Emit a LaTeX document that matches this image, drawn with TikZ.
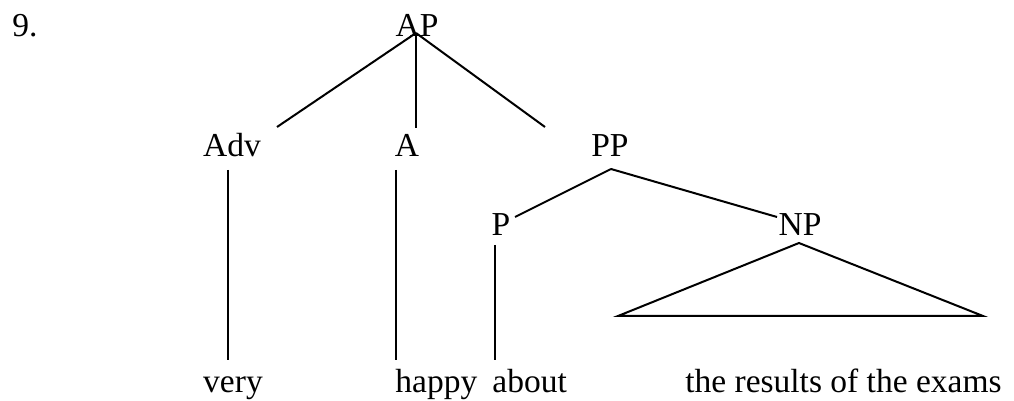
\documentclass[tikz,border=0pt]{standalone}
\usepackage{fontspec}
\setmainfont{Liberation Serif}
\usepackage{tikz}
\usetikzlibrary{calc,positioning}

\begin{document}
\begin{tikzpicture}[x=0.5pt,y=-0.5pt,
  lbl/.style={inner sep=0pt,anchor=base,font=\fontsize{16.75}{20}\selectfont},
  branch/.style={line width=1pt}]
\useasboundingbox (0,0) rectangle (1014,401);
% Labels
\node[lbl,anchor=base west] (num) at (12,37) {9.};
\node[lbl] (ap) at (417,37) {AP};
\node[lbl] (adv) at (232,157) {Adv}; \node[lbl] (a) at (407,157) {A}; \node[lbl] (pp) at (610,157) {PP};
\node[lbl] (p) at (501,235) {P}; \node[lbl] (np) at (800,235) {NP};

% Words
\node[lbl] (very) at (233,393) {very};
\node[lbl,anchor=base west] (happy) at (395,393) {happy};
\node[lbl,anchor=base west] (about) at (492,393) {about};
\node[lbl,anchor=base east] (exams) at (1002,393) {the results of the exams};

% Branch points
\coordinate (aproot) at (416,33);
\coordinate (advtop) at (277,127); \coordinate (atop) at (416,128); \coordinate (pptop) at (545,127);
\coordinate (pproot) at (611,169);
\coordinate (ptop) at (515,217); \coordinate (nptop) at (777,217);
\coordinate (advfoot) at (228,170); \coordinate (verytop) at (228,360);
\coordinate (afoot) at (396,170); \coordinate (happytop) at (396,360);
\coordinate (pfoot) at (495,245); \coordinate (abouttop) at (495,360);
\coordinate (nproot) at (799,243); \coordinate (triL) at (618,316); \coordinate (triR) at (983,316);

% Branches
\draw[branch] (aproot) -- (advtop); \draw[branch] (aproot) -- (atop); \draw[branch] (aproot) -- (pptop);
\draw[branch] (pproot) -- (ptop); \draw[branch] (pproot) -- (nptop);
\draw[branch] (advfoot) -- (verytop); \draw[branch] (afoot) -- (happytop); \draw[branch] (pfoot) -- (abouttop);
\draw[branch] (nproot) -- (triL) -- (triR) -- cycle;
\end{tikzpicture}
\end{document}
